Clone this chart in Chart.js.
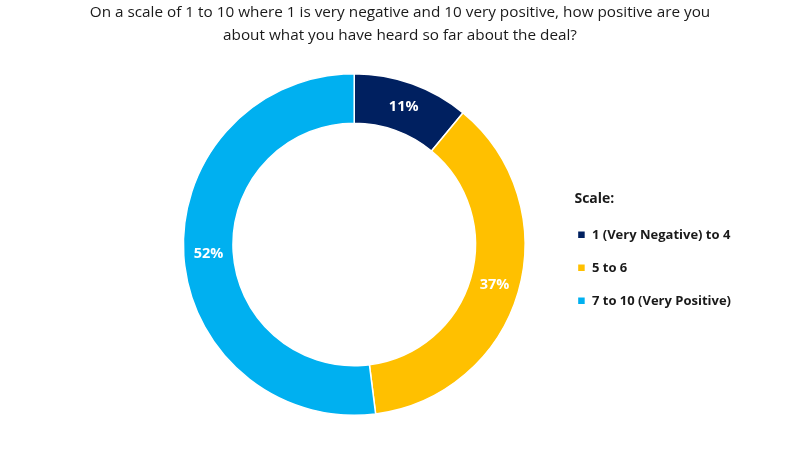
<!DOCTYPE html>
<html>
<head>
<meta charset="utf-8">
<script src="https://cdn.jsdelivr.net/npm/chart.js@4.4.1/dist/chart.umd.min.js"></script>
<style>
  html, body { margin: 0; padding: 0; background: #fff; }
  #wrap { width: 800px; height: 450px; }
</style>
</head>
<body>
<div id="wrap"><canvas id="doughnut"></canvas></div>
<script>
const labels = ['1 (Very Negative) to 4', '5 to 6', '7 to 10 (Very Positive)'];
const shares = [11, 37, 52];
const colors = ['#002060', '#FFC000', '#00B0F0'];
const legendTitle = 'Scale:';

const titleLines = [
  'On a scale of 1 to 10 where 1 is very negative and 10 very positive, how positive are you',
  'about what you have heard so far about the deal?'
];

const textFont = '"Open Sans", sans-serif';

// percent labels in the slices + legend title lined up with the legend boxes
const sliceLabels = {
  id: 'sliceLabels',
  afterLayout(chart) {
    // keep the title centred on the whole canvas, not on the padded area
    chart.titleBlock.left = 0;
    chart.titleBlock.right = chart.width;
  },
  afterDatasetsDraw(chart) {
    const ctx = chart.ctx;
    const meta = chart.getDatasetMeta(0);
    ctx.save();
    ctx.font = 'bold 14.5px ' + textFont;
    ctx.fillStyle = '#fff';
    ctx.textAlign = 'center';
    ctx.textBaseline = 'middle';
    meta.data.forEach((arc, i) => {
      const p = arc.getCenterPoint();
      ctx.fillText(shares[i] + '%', p.x, p.y);
    });
    ctx.restore();
  },
  afterDraw(chart) {
    const box = chart.legend.legendHitBoxes[0];
    if (!box) return;
    const ctx = chart.ctx;
    ctx.save();
    ctx.font = 'bold 14px ' + textFont;
    ctx.fillStyle = '#1a1a1a';
    ctx.textAlign = 'left';
    ctx.textBaseline = 'middle';
    ctx.fillText(legendTitle, box.left - 3, box.top + box.height / 2 - 36);
    ctx.restore();
  }
};

const ctx = document.getElementById('doughnut');

new Chart(ctx, {
  type: 'doughnut',
  data: {
    labels: labels,
    datasets: [{
      data: shares,
      backgroundColor: colors,
      borderColor: '#fff',
      borderWidth: 1.5
    }]
  },
  options: {
    responsive: true,
    maintainAspectRatio: false,
    animation: false,
    cutout: '71%',
    layout: { padding: { left: 151, right: 59, top: 0, bottom: 34 } },
    plugins: {
      title: {
        display: true,
        text: titleLines,
        color: '#1a1a1a',
        font: { family: textFont, size: 15.3, weight: 'normal', lineHeight: 1.5 },
        padding: { top: 1, bottom: 26 }
      },
      legend: {
        position: 'right',
        align: 'center',
        fullSize: false,
        title: {
          // space is kept here, the text itself is drawn by sliceLabels
          display: true,
          text: legendTitle,
          color: 'rgba(0,0,0,0)',
          position: 'start',
          font: { family: textFont, size: 14, weight: 'bold' },
          padding: { top: 28, bottom: 2 }
        },
        labels: {
          color: '#1a1a1a',
          font: { family: textFont, size: 13, weight: 'bold' },
          boxWidth: 8,
          boxHeight: 8,
          padding: 20
        }
      },
      tooltip: { enabled: false }
    }
  },
  plugins: [sliceLabels]
});
</script>
</body>
</html>
